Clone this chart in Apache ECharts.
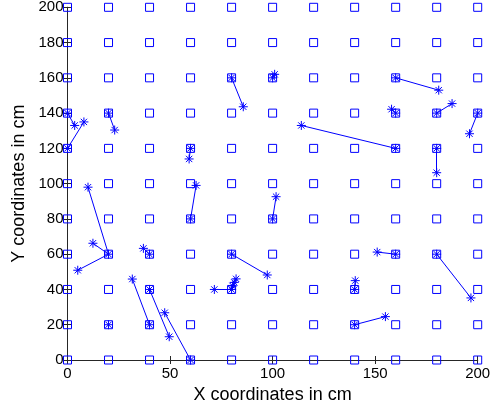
<!DOCTYPE html>
<html>
<head>
<meta charset="utf-8">
<script src="https://cdn.jsdelivr.net/npm/echarts@6/dist/echarts.min.js"></script>
<style>html,body{margin:0;padding:0;background:#fff}#c{width:497px;height:405px}</style>
</head>
<body>
<div id="c"></div>
<script>
// grid node coordinates (cm)
const gridX = [0, 20, 40, 60, 80, 100, 120, 140, 160, 180, 200];
const gridY = [0, 20, 40, 60, 80, 100, 120, 140, 160, 180, 200];
// grid nodes marked with a star
const markedX = [0, 0, 20, 60, 80, 100, 160, 160, 180, 200, 160, 180, 20, 40, 60, 100, 80, 80, 40, 40, 20, 60, 160, 180, 140, 140];
const markedY = [140, 120, 140, 120, 160, 160, 160, 140, 140, 140, 120, 120, 60, 60, 80, 80, 60, 40, 40, 20, 20, 0, 60, 60, 40, 20];
// segments: from grid node to estimated position
const fromX = [0, 0, 20, 60, 80, 100, 160, 160, 180, 200, 160, 180, 20, 20, 20, 40, 60, 100, 40, 40, 60, 80, 80, 80, 80, 80, 160, 180, 140, 140];
const fromY = [140, 120, 140, 120, 160, 160, 160, 140, 140, 140, 120, 120, 60, 60, 60, 60, 80, 80, 20, 40, 0, 60, 40, 40, 40, 40, 60, 60, 40, 20];
const toX = [3.5, 8, 23, 59.3, 85.7, 101, 181, 158, 187.5, 196, 114, 180, 10, 12.4, 5, 37, 62.7, 101.7, 31.6, 49.6, 47.4, 97.4, 71.6, 80.5, 81.3, 82.2, 151, 196.7, 140.3, 155];
const toY = [133, 135, 130.4, 114, 143.6, 162, 153, 142.2, 145.4, 128.3, 133, 106.2, 98, 66.2, 50.9, 63.3, 99, 92.6, 45.9, 13.2, 26.8, 48.2, 40, 42, 44, 46, 61.2, 35.2, 45, 24.6];
// axis ticks
const xTicks = [0, 50, 100, 150, 200];
const yTicks = [0, 20, 40, 60, 80, 100, 120, 140, 160, 180, 200];

const BLUE = '#0000ff';
const AX = '#262626';
const FONT = 'Liberation Sans, Arial, sans-serif';
const starPath = 'path://M0,-5L0,5M-5,0L5,0M-3.5,-3.5L3.5,3.5M-3.5,3.5L3.5,-3.5';

const squares = [];
gridX.forEach(x => gridY.forEach(y => squares.push([x, y])));
const marked = markedX.map((x, i) => [x, markedY[i]]);
const ests = toX.map((x, i) => [x, toY[i]]);
const segs = fromX.map((x, i) => ({ coords: [[x, fromY[i]], [toX[i], toY[i]]] }));

const chart = echarts.init(document.getElementById('c'), null, { renderer: 'canvas' });
const xBase = {
  type: 'value', min: 0, max: 200, interval: 50,
  axisLine: { show: true, lineStyle: { color: AX, width: 1 } },
  axisTick: { show: true, inside: true, length: 4, lineStyle: { color: AX } },
  splitLine: { show: false }
};
const yBase = {
  type: 'value', min: 0, max: 200, interval: 20,
  axisLine: { show: true, lineStyle: { color: AX, width: 1 } },
  axisTick: { show: true, inside: true, length: 4, lineStyle: { color: AX } },
  splitLine: { show: false }
};
chart.setOption({
  animation: false,
  backgroundColor: '#fff',
  grid: { left: 67.5, right: 19.3, top: 7.3, bottom: 45, containLabel: false, outerBoundsMode: 'none' },
  xAxis: [
    Object.assign({}, xBase, {
      position: 'bottom',
      axisLabel: { show: true, margin: 6, fontSize: 15, color: '#000', fontFamily: FONT,
        formatter: v => xTicks.includes(v) ? String(v) : '' },
      name: 'X coordinates in cm', nameLocation: 'middle', nameGap: 24,
      nameTextStyle: { fontSize: 18, color: '#000', fontFamily: FONT }
    }),
    Object.assign({}, xBase, { position: 'top', axisLabel: { show: false } })
  ],
  yAxis: [
    Object.assign({}, yBase, {
      position: 'left',
      axisLabel: { show: true, margin: 4, fontSize: 15, color: '#000', fontFamily: FONT,
        formatter: v => yTicks.includes(v) ? String(v) : '' },
      name: 'Y coordinates in cm', nameLocation: 'middle', nameGap: 32,
      nameTextStyle: { fontSize: 18, color: '#000', fontFamily: FONT }
    }),
    Object.assign({}, yBase, { position: 'right', axisLabel: { show: false } })
  ],
  series: [
    {
      type: 'lines', coordinateSystem: 'cartesian2d', xAxisIndex: 0, yAxisIndex: 0,
      data: segs, polyline: false, silent: true,
      lineStyle: { color: BLUE, width: 1, opacity: 1 }
    },
    {
      type: 'scatter', xAxisIndex: 0, yAxisIndex: 0, clip: false, silent: true,
      data: squares, symbol: 'rect', symbolSize: 8,
      itemStyle: { color: 'rgba(0,0,0,0)', borderColor: BLUE, borderWidth: 1, opacity: 1 }
    },
    {
      type: 'scatter', xAxisIndex: 0, yAxisIndex: 0, clip: false, silent: true,
      data: marked.concat(ests), symbol: starPath, symbolSize: 9,
      itemStyle: { color: 'rgba(0,0,0,0)', borderColor: BLUE, borderWidth: 1, opacity: 1 }
    }
  ]
});
</script>
</body>
</html>
